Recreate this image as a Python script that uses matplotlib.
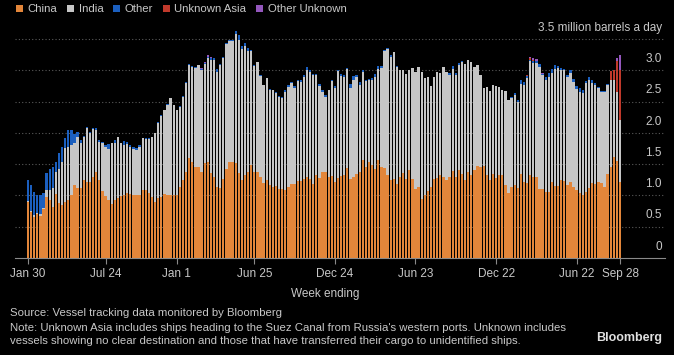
import numpy as np
import pandas as pd
import matplotlib
matplotlib.use("Agg")
import matplotlib.pyplot as plt
from matplotlib.patches import Patch
import matplotlib.transforms as mtransforms

# weekly Russian crude flows by destination, million barrels a day
weeks = pd.date_range("2022-01-30", "2025-09-28", freq="W-SUN")

china = [
    0.89, 0.73, 0.66, 0.70, 0.67, 0.78, 0.98, 0.93, 0.82, 1.02, 0.88, 0.85, 0.90, 0.93, 1.01, 1.16,
    1.12, 1.12, 1.25, 1.22, 1.22, 1.29, 1.37, 1.25, 1.07, 0.99, 0.93, 0.86, 0.93, 0.96, 0.99, 1.01,
    1.04, 1.02, 1.01, 1.00, 1.00, 1.08, 1.09, 1.04, 0.98, 0.90, 0.96, 0.98, 1.02, 1.00, 1.01, 1.01,
    1.00, 1.14, 1.25, 1.38, 1.60, 1.54, 1.45, 1.45, 1.38, 1.52, 1.54, 1.36, 1.30, 1.14, 1.12, 1.27,
    1.42, 1.53, 1.53, 1.52, 1.36, 1.25, 1.32, 1.38, 1.48, 1.37, 1.37, 1.29, 1.20, 1.25, 1.17, 1.14,
    1.15, 1.10, 1.10, 1.08, 1.14, 1.18, 1.18, 1.23, 1.23, 1.27, 1.29, 1.27, 1.18, 1.32, 1.28, 1.37,
    1.38, 1.29, 1.31, 1.22, 1.28, 1.31, 1.33, 1.44, 1.27, 1.29, 1.34, 1.37, 1.57, 1.45, 1.54, 1.48,
    1.43, 1.57, 1.45, 1.44, 1.32, 1.25, 1.27, 1.18, 1.30, 1.36, 1.26, 1.41, 1.27, 1.11, 1.14, 0.95,
    1.01, 1.07, 1.14, 1.27, 1.28, 1.32, 1.29, 1.25, 1.30, 1.39, 1.29, 1.41, 1.34, 1.25, 1.37, 1.32,
    1.41, 1.47, 1.45, 1.47, 1.33, 1.25, 1.34, 1.28, 1.33, 1.32, 1.17, 1.04, 1.14, 1.17, 1.12, 1.34,
    1.21, 1.20, 1.33, 1.29, 1.30, 1.11, 1.10, 1.06, 1.06, 1.22, 1.15, 1.15, 1.25, 1.23, 1.17, 1.21,
    1.13, 1.09, 1.04, 1.00, 1.06, 1.12, 1.20, 1.18, 1.22, 1.20, 1.14, 1.35, 1.45, 1.62, 1.55, 1.22,
]
india = [
    0.02, 0.02, 0.03, 0.02, 0.04, 0.02, 0.10, 0.16, 0.30, 0.36, 0.54, 0.69, 0.86, 0.84, 0.80, 0.68,
    0.81, 0.72, 0.69, 0.85, 0.78, 0.77, 0.68, 0.61, 0.76, 0.79, 0.82, 0.98, 0.91, 0.98, 0.85, 0.80,
    0.78, 0.75, 0.73, 0.72, 0.77, 0.83, 0.81, 0.86, 0.95, 1.09, 1.20, 1.29, 1.34, 1.45, 1.54, 1.43,
    1.37, 1.28, 1.33, 1.42, 1.48, 1.52, 1.59, 1.63, 1.63, 1.58, 1.66, 1.80, 1.86, 1.84, 1.96, 1.93,
    2.00, 1.94, 1.94, 2.06, 2.13, 2.09, 2.07, 1.93, 1.83, 1.70, 1.76, 1.62, 1.56, 1.62, 1.52, 1.54,
    1.49, 1.48, 1.46, 1.57, 1.60, 1.62, 1.54, 1.60, 1.59, 1.63, 1.72, 1.71, 1.74, 1.60, 1.47, 1.29,
    1.20, 1.39, 1.52, 1.50, 1.71, 1.60, 1.56, 1.58, 1.45, 1.55, 1.55, 1.40, 1.41, 1.38, 1.30, 1.37,
    1.46, 1.45, 1.59, 1.87, 2.02, 1.97, 2.02, 1.87, 1.71, 1.64, 1.68, 1.59, 1.76, 1.86, 1.91, 2.02,
    1.87, 1.83, 1.61, 1.62, 1.69, 1.63, 1.77, 1.72, 1.62, 1.63, 1.63, 1.67, 1.80, 1.85, 1.79, 1.82,
    1.65, 1.61, 1.47, 1.24, 1.40, 1.42, 1.42, 1.47, 1.41, 1.36, 1.50, 1.49, 1.41, 1.43, 1.37, 1.44,
    1.55, 1.68, 1.82, 1.83, 1.82, 1.94, 1.83, 1.79, 1.84, 1.74, 1.87, 1.89, 1.76, 1.77, 1.73, 1.75,
    1.69, 1.61, 1.62, 1.63, 1.73, 1.73, 1.60, 1.59, 1.49, 1.46, 1.52, 1.42, 1.40, 1.23, 1.10, 0.99,
]
other = [
    0.34, 0.42, 0.36, 0.29, 0.29, 0.24, 0.28, 0.34, 0.33, 0.16, 0.26, 0.24, 0.16, 0.28, 0.24, 0.14,
    0.08, 0.05, 0.01, 0.02, 0.02, 0.02, 0.02, 0.03, 0.03, 0.02, 0.07, 0.00, 0.05, 0.00, 0.00, 0.06,
    0.03, 0.03, 0.04, 0.04, 0.03, 0.00, 0.01, 0.02, 0.00, 0.01, 0.01, 0.01, 0.01, 0.01, 0.00, 0.00,
    0.00, 0.01, 0.01, 0.01, 0.02, 0.01, 0.01, 0.01, 0.01, 0.01, 0.02, 0.03, 0.04, 0.04, 0.02, 0.01,
    0.01, 0.01, 0.01, 0.04, 0.07, 0.05, 0.05, 0.04, 0.01, 0.01, 0.01, 0.01, 0.01, 0.01, 0.01, 0.01,
    0.01, 0.01, 0.01, 0.03, 0.02, 0.02, 0.03, 0.01, 0.02, 0.03, 0.04, 0.03, 0.02, 0.02, 0.03, 0.03,
    0.03, 0.01, 0.01, 0.03, 0.01, 0.03, 0.03, 0.02, 0.06, 0.07, 0.03, 0.05, 0.02, 0.01, 0.02, 0.02,
    0.05, 0.05, 0.03, 0.02, 0.01, 0.03, 0.01, 0.02, 0.00, 0.00, 0.00, 0.00, 0.00, 0.00, 0.00, 0.00,
    0.00, 0.00, 0.00, 0.00, 0.00, 0.00, 0.00, 0.00, 0.04, 0.05, 0.04, 0.04, 0.01, 0.00, 0.00, 0.00,
    0.00, 0.00, 0.00, 0.00, 0.00, 0.00, 0.00, 0.00, 0.00, 0.00, 0.00, 0.00, 0.02, 0.03, 0.03, 0.06,
    0.05, 0.03, 0.02, 0.03, 0.03, 0.05, 0.01, 0.04, 0.06, 0.06, 0.06, 0.03, 0.03, 0.02, 0.03, 0.04,
    0.04, 0.05, 0.06, 0.06, 0.04, 0.04, 0.04, 0.03, 0.02, 0.01, 0.01, 0.01, 0.00, 0.00, 0.00, 0.00,
]
unknown_asia = [0.0] * 161 + [0.02, 0.03, 0.01] + [0.0] * 24 + [0.14, 0.16, 0.50, 0.80]
other_unknown = ([0.0] * 56 + [0.02, 0.03, 0.03, 0.03] + [0.0] * 102
                 + [0.01, 0.03, 0.03, 0.0, 0.02] + [0.0] * 23 + [0.05, 0.23])

tick_dates = ["2022-01-30", "2022-07-24", "2023-01-01", "2023-06-25", "2023-12-24",
              "2024-06-23", "2024-12-22", "2025-06-22", "2025-09-28"]
tick_labels = ["Jan 30", "Jul 24", "Jan 1", "Jun 25", "Dec 24",
               "Jun 23", "Dec 22", "Jun 22", "Sep 28"]
y_levels = [0, 0.5, 1.0, 1.5, 2.0, 2.5, 3.0]

series = [("China", china, "#e3863a"), ("India", india, "#c6c6c6"),
          ("Other", other, "#1b5fbf"), ("Unknown Asia", unknown_asia, "#c0392b"),
          ("Other Unknown", other_unknown, "#9457bd")]

plt.rcParams["font.family"] = ["Liberation Sans", "DejaVu Sans"]
fs = 8.2
txt = "#c8c8c8"

fig = plt.figure(figsize=(6.74, 3.55), dpi=100, facecolor="black")
# axes from x=15 to 665 px, y=20 to 258 px
ax = fig.add_axes([15 / 674, 1 - 258 / 355, 650 / 674, 238 / 355])
ax.set_facecolor("black")

x = np.arange(len(weeks))
bottom = np.zeros(len(weeks))
for name, vals, col in series:
    vals = np.array(vals)
    ax.bar(x, vals, width=0.75, bottom=bottom, color=col, linewidth=0, zorder=3)
    bottom += vals

ax.set_xlim(-4.2, 205.5)
ax.set_ylim(0, 238 / 62.57)

for v in y_levels[1:] + [3.5]:
    ax.axhline(v, color="#5a5a5a", lw=0.8, ls=(0, (1, 2)), zorder=1)

trans = mtransforms.blended_transform_factory(ax.transAxes, ax.transData)
for v in y_levels:
    lab = "0" if v == 0 else f"{v:.1f}"
    ax.text(0.995, v + 0.18, lab, transform=trans, ha="right", va="center",
            color=txt, fontsize=fs + 0.3)
ax.text(0.995, 3.5 + 0.18, "3.5 million barrels a day", transform=trans,
        ha="right", va="center", color=txt, fontsize=fs + 0.3)

for s in ["top", "right", "left"]:
    ax.spines[s].set_visible(False)
ax.spines["bottom"].set_color("#8a8a8a")
ax.set_yticks([])
pos = weeks.get_indexer(pd.to_datetime(tick_dates))
ax.set_xticks(pos)
ax.set_xticklabels(tick_labels)
ax.tick_params(axis="x", colors="#8a8a8a", length=4, width=0.8, pad=3,
               labelcolor=txt, labelsize=fs + 0.3)

handles = [Patch(facecolor=c, edgecolor="none") for _, _, c in series]
fig.legend(handles, [n for n, _, _ in series], loc="center left",
           bbox_to_anchor=(0.017, 1 - 9.5 / 355), ncol=5, frameon=False,
           handlelength=0.6, handleheight=0.6, handletextpad=0.42,
           columnspacing=0.85, labelcolor=txt, fontsize=fs, borderaxespad=0)

fig.text(325 / 674, 1 - 294 / 355, "Week ending", ha="center", va="center",
         color=txt, fontsize=fs + 0.3)
fig.text(10 / 674, 1 - 313 / 355, "Source: Vessel tracking data monitored by Bloomberg",
         ha="left", va="center", color=txt, fontsize=fs)
fig.text(10 / 674, 1 - 328 / 355,
         "Note: Unknown Asia includes ships heading to the Suez Canal from Russia's western ports. Unknown includes",
         ha="left", va="center", color=txt, fontsize=fs)
fig.text(10 / 674, 1 - 341 / 355,
         "vessels showing no clear destination and those that have transferred their cargo to unidentified ships.",
         ha="left", va="center", color=txt, fontsize=fs)
fig.text(662 / 674, 1 - 338 / 355, "Bloomberg", ha="right", va="center",
         color="#e0e0e0", fontsize=fs + 0.8, fontweight="bold")

fig.savefig("out.png", dpi=100, facecolor="black")
